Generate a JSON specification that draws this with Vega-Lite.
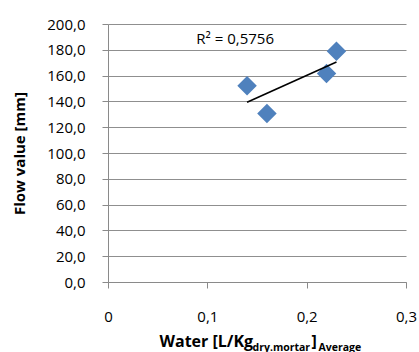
{
  "$schema": "https://vega.github.io/schema/vega-lite/v6.json",
  "width": 298,
  "height": 258,
  "autosize": {"type": "none"},
  "padding": {"left": 108, "top": 24, "right": 13, "bottom": 70},
  "config": {
    "locale": {"number": {"decimal": ",", "thousands": ".", "grouping": [3], "currency": ["", " €"]}},
    "view": {"stroke": null},
    "font": "Open Sans",
    "axis": {"labelFont": "Open Sans", "titleFont": "Open Sans", "labelColor": "#000000", "titleColor": "#000000"}
  },
  "data": {
    "values": [
      {"water": 0.14, "flow": 152.2},
      {"water": 0.16, "flow": 130.6},
      {"water": 0.22, "flow": 161.6},
      {"water": 0.23, "flow": 178.8}
    ]
  },
  "layer": [
    {
      "mark": {"type": "point", "shape": "diamond", "filled": true, "size": 380, "color": "#4F81BD", "opacity": 1},
      "encoding": {
        "x": {
          "field": "water", "type": "quantitative",
          "scale": {"domain": [0, 0.3], "nice": false},
          "axis": {
            "orient": "bottom", "values": [0, 0.1, 0.2, 0.3], "format": ".1~f", "grid": false,
            "labelFlush": false, "domainColor": "#8a8a8a", "tickColor": "#8a8a8a", "tickSize": 6,
            "labelPadding": 21, "labelFontSize": 15,
            "title": "Water [L/Kg", "titleFontSize": 16, "titleFontWeight": "bold",
            "titleX": 51, "titleY": 64, "titleAlign": "left", "titleBaseline": "alphabetic", "titleAnchor": null
          }
        },
        "y": {
          "field": "flow", "type": "quantitative",
          "scale": {"domain": [0, 200], "nice": false},
          "axis": {
            "orient": "left", "values": [0, 20, 40, 60, 80, 100, 120, 140, 160, 180, 200], "format": ".1f",
            "grid": true, "gridColor": "#8f8f8f", "gridWidth": 1.2, "domainColor": "#8a8a8a", "tickColor": "#8a8a8a",
            "tickSize": 6, "labelPadding": 17, "labelFontSize": 15,
            "title": "Flow value [mm]", "titleFontSize": 15, "titleFontWeight": "bold",
            "titleX": -89, "titleY": 129, "titleAngle": -90, "titleAlign": "center", "titleBaseline": "middle", "titleAnchor": null
          }
        }
      }
    },
    {
      "transform": [{"regression": "flow", "on": "water"}],
      "mark": {"type": "line", "color": "#000000", "strokeWidth": 1.6},
      "encoding": {
        "x": {
          "field": "water", "type": "quantitative",
          "axis": {
            "orient": "bottom", "labels": false, "ticks": false, "domain": false, "grid": false,
            "title": "dry.mortar", "titleFontSize": 10.5, "titleFontWeight": "bold",
            "titleX": 144, "titleY": 68, "titleAlign": "left", "titleBaseline": "alphabetic", "titleAnchor": null
          }
        },
        "y": {
          "field": "flow", "type": "quantitative",
          "axis": {
            "orient": "left", "labels": false, "ticks": false, "domain": false, "grid": false,
            "title": "]", "titleFontSize": 16, "titleFontWeight": "bold", "titleAngle": 0,
            "titleX": 203, "titleY": 322, "titleAlign": "left", "titleBaseline": "alphabetic", "titleAnchor": null
          }
        }
      }
    },
    {
      "data": {"values": [{"label": "R² = 0,5756"}]},
      "mark": {"type": "text", "fontSize": 15, "color": "#000000", "font": "Open Sans"},
      "encoding": {
        "text": {"field": "label"},
        "x": {
          "datum": 0.128, "type": "quantitative",
          "axis": {
            "orient": "bottom", "labels": false, "ticks": false, "domain": false, "grid": false,
            "title": "Average", "titleFontSize": 10.5, "titleFontWeight": "bold",
            "titleX": 210, "titleY": 68, "titleAlign": "left", "titleBaseline": "alphabetic", "titleAnchor": null
          }
        },
        "y": {"datum": 188, "type": "quantitative", "axis": null}
      }
    }
  ],
  "resolve": {"axis": {"x": "independent", "y": "independent"}}
}
